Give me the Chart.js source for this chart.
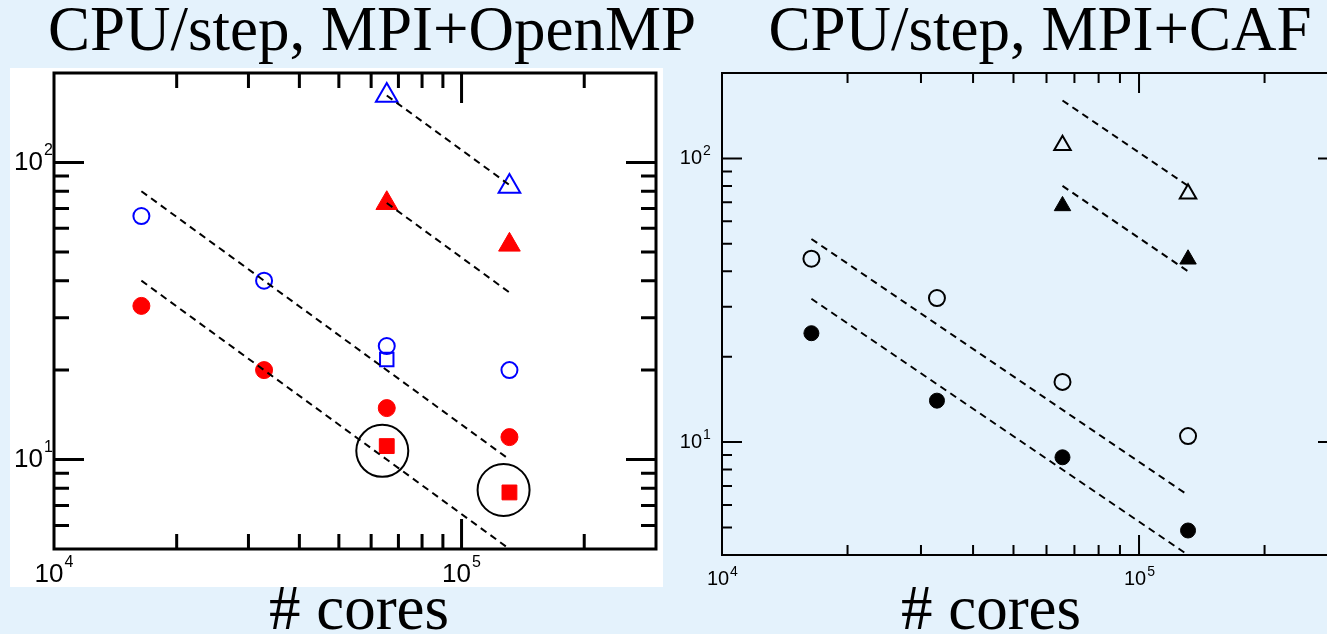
<!DOCTYPE html>
<html><head><meta charset="utf-8">
<script src="https://cdn.jsdelivr.net/npm/chart.js@4/dist/chart.umd.min.js"></script>
<style>
html,body{margin:0;padding:0;width:1327px;height:634px;overflow:hidden;background:#e4f2fc;}
#whitebox{position:absolute;left:10px;top:68px;width:653px;height:519px;background:#fff;}
canvas{position:absolute;left:0;top:0;}
.t{position:absolute;font-family:"Liberation Serif","Times New Roman",serif;font-size:63px;line-height:63px;color:#000;white-space:nowrap;transform:translateX(-50%);}
</style></head><body>
<div id="whitebox"></div>
<canvas id="c1" width="1360" height="634"></canvas>
<canvas id="c2" width="1360" height="634"></canvas>
<div class="t" style="left:372px;top:-2px">CPU/step, MPI+OpenMP</div>
<div class="t" style="left:1040px;top:-2px">CPU/step, MPI+CAF</div>
<div class="t" style="left:359px;top:577px"># cores</div>
<div class="t" style="left:991px;top:577px"># cores</div>
<script>
// ---------- data ----------
const cores = [16384, 32768, 65536, 131072];
const coresHigh = [65536, 131072];

// left panel: MPI+OpenMP
const ompOpenCircle = [66, 40, 24.1, 20];
const ompFilledCircle = [32.9, 20, 14.9, 11.9];
const ompOpenTriangle = [168, 83];
const ompFilledTriangle = [72.9, 52.8];
const ompOpenSquareCores = [65536];
const ompOpenSquare = [21.7];
const ompFilledSquare = [11.1, 7.75];
const ompHighlightCores = [63900, 126800];
const ompHighlight = [10.7, 7.9];
const ompLineCores = [[65536, 131072], [65536, 131072], [16384, 131072], [16384, 131072]];
const ompLineValues = [[168, 84], [73, 36.5], [80, 10], [40, 5]];

// right panel: MPI+CAF
const cafOpenCircle = [44.3, 32.2, 16.3, 10.5];
const cafFilledCircle = [24.2, 14.0, 8.84, 4.88];
const cafOpenTriangle = [111.3, 75.1];
const cafFilledTriangle = [68.0, 44.1];
const cafLineCores = [[65536, 131072], [65536, 131072], [16384, 131072], [16384, 131072]];
const cafLineValues = [[160, 80], [80, 40], [52, 6.5], [32, 4]];

// axis ticks
const xTicks = [1e4, 2e4, 3e4, 4e4, 5e4, 6e4, 7e4, 8e4, 9e4, 1e5, 2e5, 3e5];
const yTicksLeft = [5, 6, 7, 8, 9, 10, 20, 30, 40, 50, 60, 70, 80, 90, 100, 200];
const yTicksRight = [4, 5, 6, 7, 8, 9, 10, 20, 30, 40, 50, 60, 70, 80, 90, 100, 200];

function pts(xs, ys) { return xs.map((x, i) => ({x: x, y: ys[i]})); }
function isDecade(v) { const l = Math.log10(v); return Math.abs(l - Math.round(l)) < 1e-9; }
function decadeBase(v) { return isDecade(v) ? '10' : ''; }

const frame = {
  id: 'frame',
  beforeDatasetsDraw(chart, args, o) {
    const ctx = chart.ctx, a = chart.chartArea, x = chart.scales.x, y = chart.scales.y;
    ctx.save();
    ctx.strokeStyle = '#000';
    ctx.lineWidth = o.lw;
    ctx.lineCap = 'butt';
    ctx.beginPath();
    x.ticks.forEach(t => {
      const p = x.getPixelForValue(t.value);
      if (p <= a.left + 1 || p >= a.right - 1) return;
      const L = isDecade(t.value) ? o.major : o.minor;
      ctx.moveTo(p, a.bottom); ctx.lineTo(p, a.bottom - L);
      ctx.moveTo(p, a.top); ctx.lineTo(p, a.top + L);
    });
    y.ticks.forEach(t => {
      const p = y.getPixelForValue(t.value);
      if (p <= a.top + 1 || p >= a.bottom - 1) return;
      const L = isDecade(t.value) ? o.major : o.minor;
      ctx.moveTo(a.left, p); ctx.lineTo(a.left + L, p);
      ctx.moveTo(a.right, p); ctx.lineTo(a.right - L, p);
    });
    ctx.stroke();
    ctx.strokeRect(a.left, a.top, a.right - a.left, a.bottom - a.top);
    ctx.restore();
  },
  // exponents of the decade tick labels, placed after the library's "10"
  afterDraw(chart, args, o) {
    const ctx = chart.ctx;
    ctx.save();
    ['x', 'y'].forEach(id => {
      const s = chart.scales[id];
      if (!s.getLabelItems) return;
      const items = s.getLabelItems();
      items.forEach(it => {
        if (it.label !== '10') return;
        const tx = it.options.translation[0], ty = it.options.translation[1] + (it.textOffset || 0);
        const val = id === 'x' ? s.getValueForPixel(tx - s.options.ticks.labelOffset) : s.getValueForPixel(ty);
        const exp = String(Math.round(Math.log10(val)));
        ctx.font = it.font.string;
        ctx.textBaseline = 'middle';
        const m = ctx.measureText('10');
        const right = it.options.textAlign === 'center' ? tx + m.width / 2 : (it.options.textAlign === 'right' ? tx : tx + m.width);
        const top = ty - m.actualBoundingBoxAscent;
        ctx.font = o.expSize + 'px "Liberation Sans", Arial, sans-serif';
        ctx.fillStyle = '#000';
        ctx.textAlign = 'left';
        ctx.textBaseline = 'alphabetic';
        ctx.fillText(exp, right + 1, top + o.expK);
      });
    });
    ctx.restore();
  }
};

function lineSets(xs, ys) {
  return xs.map((xx, i) => ({
    data: pts(xx, ys[i]), showLine: true, borderColor: '#000', borderWidth: 2,
    borderDash: [7, 5], pointRadius: 0, fill: false, order: 0
  }));
}
function marker(data, style, r, color, filled, bw) {
  return {
    data: data, showLine: false, pointStyle: style, pointRadius: r,
    pointBorderColor: color, pointBackgroundColor: filled ? color : 'rgba(0,0,0,0)',
    pointBorderWidth: bw, borderColor: color, backgroundColor: filled ? color : 'rgba(0,0,0,0)', order: 1
  };
}

function makeChart(id, area, yMin, yMax, yTicks, fontSize, xPad, yPad, xOff, tickOpts, datasets) {
  const W = 1360, H = 634;
  return new Chart(document.getElementById(id), {
    type: 'scatter',
    data: { datasets: datasets },
    options: {
      responsive: false, animation: false, events: [],
      devicePixelRatio: 1,
      layout: { padding: { left: 0, top: area.top, right: W - area.right, bottom: 0 } },
      plugins: { legend: { display: false }, tooltip: { enabled: false }, frame: tickOpts },
      scales: {
        x: {
          type: 'logarithmic', min: 1e4, max: 3e5, position: 'bottom',
          afterFit: s => { s.height = H - area.bottom; },
          afterBuildTicks: s => { s.ticks = xTicks.map(v => ({ value: v })); },
          grid: { display: false, drawTicks: false }, border: { display: false },
          ticks: { autoSkip: false, maxRotation: 0, minRotation: 0, padding: xPad, labelOffset: xOff, color: '#000',
            font: { family: '"Liberation Sans", Arial, sans-serif', size: fontSize },
            callback: v => decadeBase(v) }
        },
        y: {
          type: 'logarithmic', min: yMin, max: yMax, position: 'left',
          afterFit: s => { s.width = area.left; },
          afterBuildTicks: s => { s.ticks = yTicks.map(v => ({ value: v })); },
          grid: { display: false, drawTicks: false }, border: { display: false },
          ticks: { autoSkip: false, padding: yPad, color: '#000',
            font: { family: '"Liberation Sans", Arial, sans-serif', size: fontSize },
            callback: v => decadeBase(v) }
        }
      }
    },
    plugins: [frame]
  });
}

const blue = '#0000ff', red = '#ff0000', black = '#000000';

makeChart('c1', { left: 54, top: 73, right: 656, bottom: 549 }, 5, 200, yTicksLeft, 26, 10, 11, -5,
  { lw: 3, major: 30, minor: 15, expSize: 16, expK: 3 },
  lineSets(ompLineCores, ompLineValues).concat([
    marker(pts(cores, ompOpenCircle), 'circle', 8, blue, false, 2),
    marker(pts(ompOpenSquareCores, ompOpenSquare), 'rect', 9.5, blue, false, 2),
    marker(pts(cores, ompFilledCircle), 'circle', 8.5, red, true, 1),
    marker(pts(coresHigh, ompOpenTriangle), 'triangle', 12.5, blue, false, 2),
    marker(pts(coresHigh, ompFilledTriangle), 'triangle', 12.5, red, true, 1),
    marker(pts(coresHigh, ompFilledSquare), 'rect', 10.5, red, true, 1),
    marker(pts(ompHighlightCores, ompHighlight), 'circle', 26, black, false, 2)
  ]));

makeChart('c2', { left: 722, top: 73, right: 1338, bottom: 555 }, 4, 200, yTicksRight, 20, 12, 20, -4,
  { lw: 2, major: 20, minor: 10, expSize: 14, expK: 5 },
  lineSets(cafLineCores, cafLineValues).concat([
    marker(pts(cores, cafOpenCircle), 'circle', 8, black, false, 2),
    marker(pts(cores, cafFilledCircle), 'circle', 7.5, black, true, 1),
    marker(pts(coresHigh, cafOpenTriangle), 'triangle', 9.5, black, false, 2),
    marker(pts(coresHigh, cafFilledTriangle), 'triangle', 9.5, black, true, 1)
  ]));
</script>
</body></html>
